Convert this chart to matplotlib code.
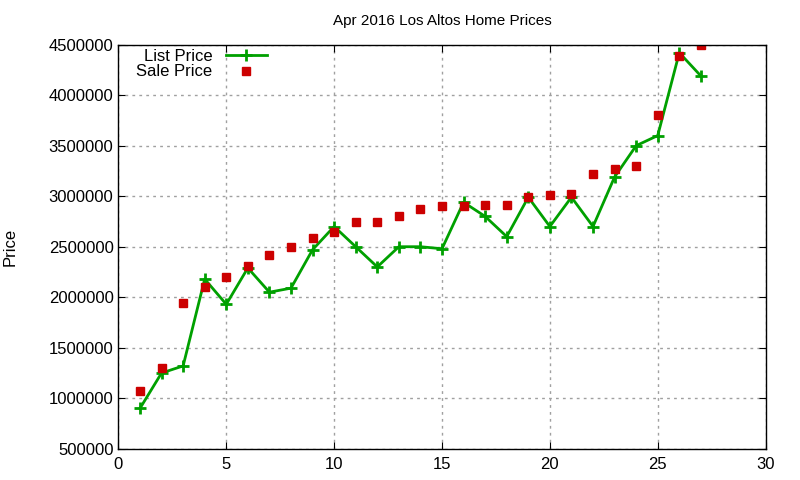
import matplotlib.pyplot as plt

plt.rcParams["font.family"] = ["Liberation Sans", "DejaVu Sans"]

days = list(range(1, 28))
list_price = [
    900000, 1250000, 1320000, 2180000, 1930000, 2290000, 2050000, 2090000,
    2470000, 2700000, 2500000, 2300000, 2500000, 2500000, 2480000, 2940000,
    2800000, 2600000, 2990000, 2700000, 2990000, 2700000, 3190000, 3500000,
    3600000, 4420000, 4190000,
]
sale_price = [
    1070000, 1300000, 1940000, 2100000, 2200000, 2310000, 2420000, 2500000,
    2590000, 2650000, 2740000, 2740000, 2800000, 2870000, 2900000, 2900000,
    2910000, 2910000, 2990000, 3010000, 3020000, 3220000, 3270000, 3300000,
    3800000, 4390000, 4500000,
]
x_ticks = [0, 5, 10, 15, 20, 25, 30]
y_ticks = [500000, 1000000, 1500000, 2000000, 2500000, 3000000, 3500000, 4000000, 4500000]

fig = plt.figure(figsize=(8, 4.8), dpi=100)
ax = fig.add_axes([0.148, 0.065, 0.809, 0.842])

ax.plot(days, list_price, color="#00a000", linewidth=2, marker="+",
        markersize=9, markeredgewidth=2, label="List Price")
ax.plot(days, sale_price, color="#cc0000", linestyle="none", marker="s",
        markersize=6, label="Sale Price")

ax.set_xlim(0, 30)
ax.set_ylim(500000, 4500000)
ax.set_xticks(x_ticks)
ax.set_yticks(y_ticks)
ax.set_yticklabels([str(v) for v in y_ticks])
ax.tick_params(direction="in", top=True, right=True, labelsize=12, length=5)
ax.tick_params(axis="x", pad=6)
ax.grid(True, color="#a0a0a0", linestyle=(0, (2, 3)), linewidth=1)
for s in ax.spines.values():
    s.set_linewidth(1)

ax.set_title("Apr 2016 Los Altos Home Prices", fontsize=11, pad=14)
ax.set_ylabel("Price", fontsize=12, labelpad=22)

ax.legend(loc="upper left", markerfirst=False, frameon=False, fontsize=12,
          handlelength=2.5, borderaxespad=0.2, labelspacing=0.05,
          bbox_to_anchor=(0.012, 1.015))

fig.savefig("out.png", dpi=100)
